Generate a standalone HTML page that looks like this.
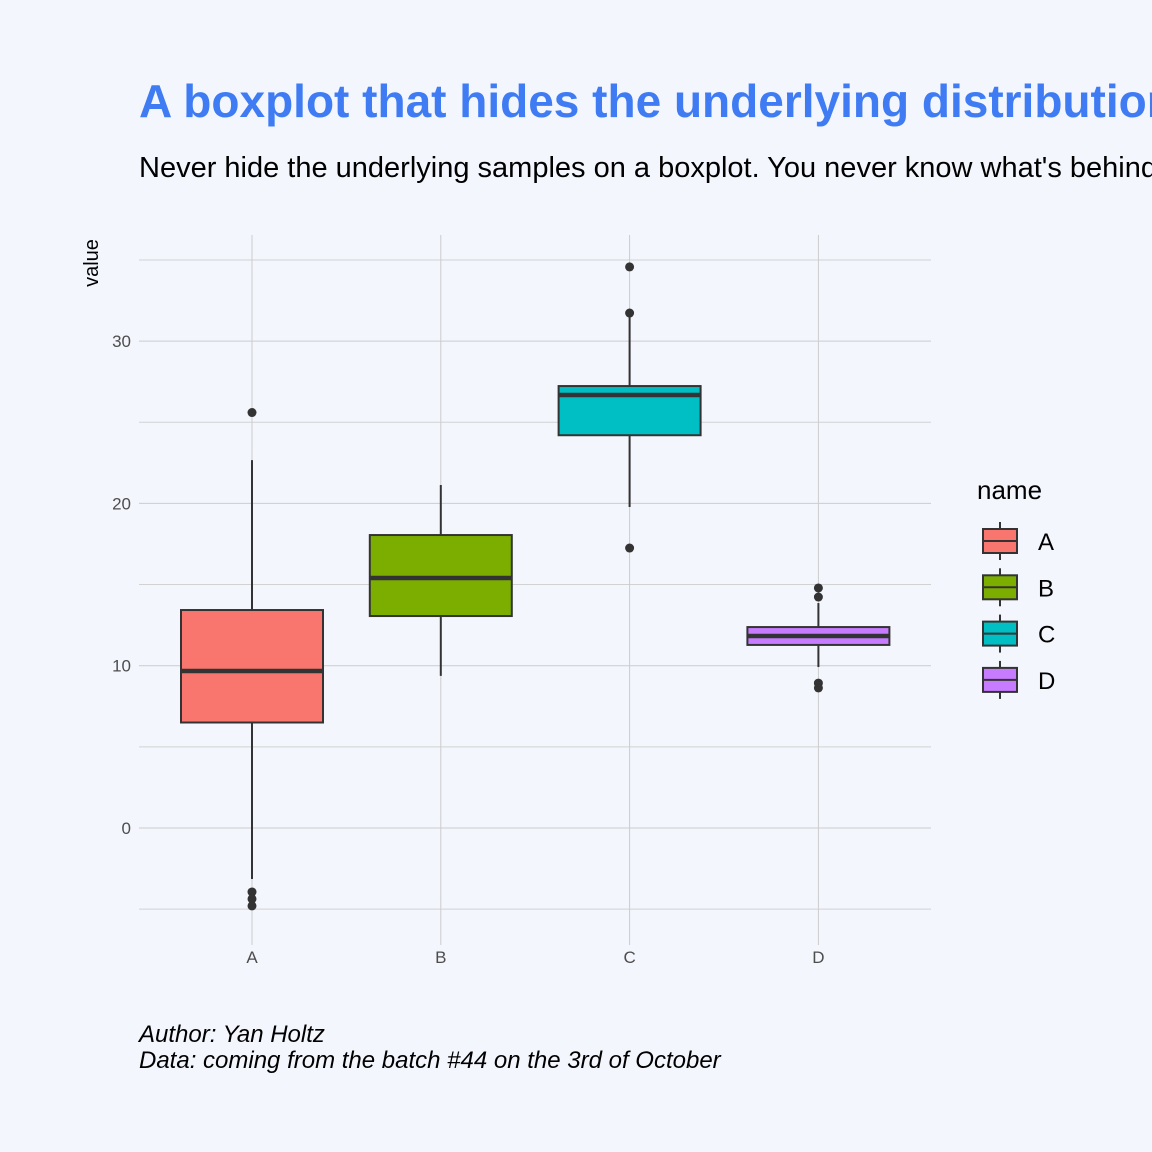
<!DOCTYPE html>
<html><head><meta charset="utf-8"><style>
body{margin:0;background:#f3f6fd;}
svg{display:block;font-family:"Liberation Sans",Arial,sans-serif;}
</style></head><body>
<svg id="chart" width="1152" height="1152" viewBox="0 0 1152 1152">
<rect width="1152" height="1152" fill="#f3f6fd"/>
<text x="139" y="117" font-size="46" font-weight="bold" fill="#3f7cf4">A boxplot that hides the underlying distribution</text>
<text x="139" y="177" font-size="29" fill="#000">Never hide the underlying samples on a boxplot. You never know what's behind.</text>
<g id="grid"></g>
<g id="boxes"></g>
<text transform="translate(98,263) rotate(-90)" text-anchor="middle" font-size="20" fill="#000">value</text>
<text x="977" y="499" font-size="26" fill="#000">name</text>
<g id="legend"></g>
<text x="139" y="1042" font-size="24" font-style="italic" fill="#000">Author: Yan Holtz</text>
<text x="139" y="1068" font-size="24" font-style="italic" fill="#000">Data: coming from the batch #44 on the 3rd of October</text>
</svg>
<script>
const categories=["A","B","C","D"];
const colors=["#f8766d","#7cae00","#00bfc4","#c77cff"];
const q1=[6.5,13.06,24.2,11.28];
const medians=[9.67,15.4,26.68,11.83];
const q3=[13.43,18.05,27.23,12.38];
const whiskLow=[-3.14,9.37,19.78,9.92];
const whiskHigh=[22.67,21.13,31.73,13.86];
const outliers=[[25.6,-3.94,-4.37,-4.8],[],[34.57,31.73,17.25],[14.79,14.23,8.93,8.63]];
const yTicks=[0,10,20,30];
const yMinor=[-5,5,15,25,35];

const NS="http://www.w3.org/2000/svg";
const L=139,R=931,T=235,B=945;
const y=v=>828-v*16.23;
const x=i=>252+i*188.8;
const bw=142;
function mk(tag,attrs,parent){const e=document.createElementNS(NS,tag);for(const k in attrs)e.setAttribute(k,attrs[k]);parent.appendChild(e);return e;}
const grid=document.getElementById('grid'),boxes=document.getElementById('boxes'),leg=document.getElementById('legend');
yMinor.forEach(v=>{const l=mk('line',{x1:L,x2:R,y1:y(v),y2:y(v),stroke:'#d2d2d2','stroke-width':1},grid);

});
yTicks.forEach(v=>{const l=mk('line',{x1:L,x2:R,y1:y(v),y2:y(v),stroke:'#cccccc','stroke-width':1},grid);


const t=mk('text',{x:131,y:y(v)+6,'text-anchor':'end','font-size':17,fill:'#4d4d4d'},grid);t.textContent=v;

});
categories.forEach((c,i)=>{const l=mk('line',{x1:x(i),x2:x(i),y1:T,y2:B,stroke:'#cccccc','stroke-width':1},grid);


const t=mk('text',{x:x(i),y:963,'text-anchor':'middle','font-size':17,fill:'#4d4d4d'},grid);t.textContent=c;


const g=mk('g',{},boxes);


mk('line',{x1:x(i),x2:x(i),y1:y(whiskLow[i]),y2:y(whiskHigh[i]),stroke:'#333','stroke-width':2},g);
mk('rect',{x:x(i)-bw/2,y:y(q3[i]),width:bw,height:y(q1[i])-y(q3[i]),fill:colors[i],stroke:'#333','stroke-width':2},g);
mk('line',{x1:x(i)-bw/2,x2:x(i)+bw/2,y1:y(medians[i]),y2:y(medians[i]),stroke:'#333','stroke-width':4.5},g);
outliers[i].forEach(o=>{const p=mk('circle',{cx:x(i),cy:y(o),r:4.5,fill:'#333'},g);

});
const ly=541+i*46.3;
const lg=mk('g',{},leg);


mk('line',{x1:1000,x2:1000,y1:ly-19,y2:ly+19,stroke:'#333','stroke-width':2},lg);
mk('rect',{x:983,y:ly-12,width:34,height:24,fill:colors[i],stroke:'#333','stroke-width':2},lg);
mk('line',{x1:983,x2:1017,y1:ly,y2:ly,stroke:'#333','stroke-width':2},lg);
const lt=mk('text',{x:1038,y:ly+9,'font-size':24,fill:'#000'},lg);lt.textContent=c;});
</script>
</body></html>
